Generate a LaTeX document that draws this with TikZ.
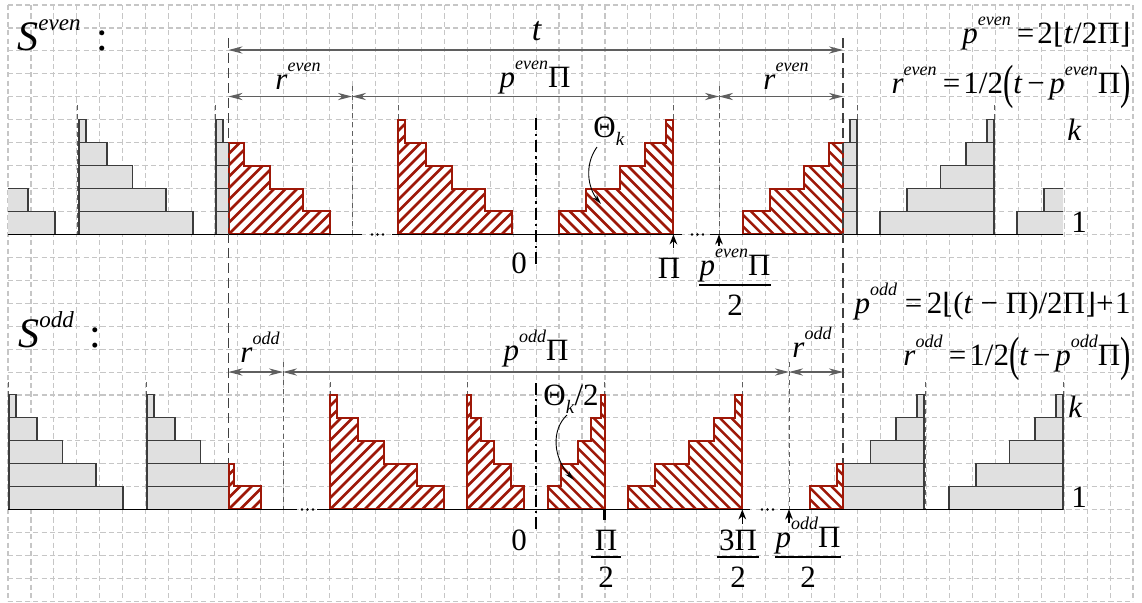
\documentclass[tikz,border=0pt]{standalone}
\usepackage{fontspec}
\setmainfont{Liberation Serif}
\newfontfamily\dvs{DejaVu Serif}
\usetikzlibrary{arrows.meta}
\definecolor{redc}{RGB}{158,24,8}
\definecolor{gridc}{RGB}{198,198,198}
\definecolor{boxfill}{RGB}{224,224,224}
\definecolor{boxdraw}{RGB}{60,60,60}
\definecolor{dimc}{RGB}{95,95,95}
\newcommand{\rowh}{22.94}
\newcommand{\yE}{234.4}
\newcommand{\yO}{509.4}
\newcommand{\V}[2]{\textit{#1}\raisebox{0.55em}{\fontsize{9}{9}\selectfont\textit{#2}}}
\newcommand{\fl}{\fontsize{15.5}{18}\selectfont}
\newcommand{\subk}{\raisebox{-4pt}{\fontsize{9.5}{9.5}\selectfont\textit{k}}}
\newcommand{\lfl}{{\dvs\fontsize{14}{14}\selectfont ⌊}}
\newcommand{\rfl}{{\dvs\fontsize{14}{14}\selectfont ⌋}}
\newcommand{\lpar}{\raisebox{-0.17em}{\scalebox{1}[1.55]{(}}}
\newcommand{\rpar}{\raisebox{-0.17em}{\scalebox{1}[1.55]{)}}}
\newcommand{\grayL}[2]{\foreach \w [count=\k] in {114,87,53.5,28,7}{\draw[graybox] (#1,#2-\k*\rowh) rectangle (#1+\w,#2-\k*\rowh+\rowh);}}
\newcommand{\grayR}[2]{\foreach \w [count=\k] in {114,87,53.5,28,7}{\draw[graybox] (#1-\w,#2-\k*\rowh) rectangle (#1,#2-\k*\rowh+\rowh);}}
\newcommand{\redL}[3]{\path[hatchL] (#1,#2) -- (#1+114*#3,#2) -- (#1+114*#3,#2-\rowh) -- (#1+87*#3,#2-\rowh) -- (#1+87*#3,#2-2*\rowh) -- (#1+53.5*#3,#2-2*\rowh) -- (#1+53.5*#3,#2-3*\rowh) -- (#1+28*#3,#2-3*\rowh) -- (#1+28*#3,#2-4*\rowh) -- (#1+7*#3,#2-4*\rowh) -- (#1+7*#3,#2-5*\rowh) -- (#1,#2-5*\rowh) -- cycle;}
\newcommand{\redR}[3]{\path[hatchR] (#1,#2) -- (#1-114*#3,#2) -- (#1-114*#3,#2-\rowh) -- (#1-87*#3,#2-\rowh) -- (#1-87*#3,#2-2*\rowh) -- (#1-53.5*#3,#2-2*\rowh) -- (#1-53.5*#3,#2-3*\rowh) -- (#1-28*#3,#2-3*\rowh) -- (#1-28*#3,#2-4*\rowh) -- (#1-7*#3,#2-4*\rowh) -- (#1-7*#3,#2-5*\rowh) -- (#1,#2-5*\rowh) -- cycle;}
\begin{document}
\begin{tikzpicture}[x=0.5pt,y=-0.5pt,
  gridl/.style={draw=gridc,line width=0.55pt,dash pattern=on 2.6pt off 1.6pt},
  graybox/.style={fill=boxfill,draw=boxdraw,line width=0.55pt},
  hatchL/.style={draw=redc,line width=1pt,line join=miter,fill=white,
    path picture={\foreach \i in {-12,...,12}{\draw[redc,line width=1.3pt] ([xshift=\i*5.75pt]path picture bounding box.south west) -- ++(72pt,72pt);}}},
  hatchR/.style={draw=redc,line width=1pt,line join=miter,fill=white,
    path picture={\foreach \i in {-12,...,12}{\draw[redc,line width=1.3pt] ([xshift=\i*5.75pt]path picture bounding box.south east) -- ++(-72pt,72pt);}}},
  thind/.style={draw=dimc,line width=0.45pt,dash pattern=on 2.5pt off 2pt},
  longd/.style={draw=black!75,line width=0.65pt,dash pattern=on 5pt off 2.5pt},
  dashdot/.style={draw=black,line width=0.8pt,dash pattern=on 6pt off 2pt on 1.2pt off 2pt},
  axisl/.style={draw=black,line width=0.9pt},
  dim/.style={draw=dimc,line width=0.6pt,arrows={Stealth[length=7pt,width=3.6pt,inset=2.2pt]-Stealth[length=7pt,width=3.6pt,inset=2.2pt]}},
  uparr/.style={draw=black,line width=0.8pt,-{Stealth[length=5pt,width=3.8pt]}},
  curv/.style={draw=black,line width=0.45pt,-{Stealth[length=5pt,width=2.6pt]}},
  lbl/.style={inner sep=0pt,font=\fl},
  fracbar/.style={draw=black,line width=0.65pt},
  dotm/.style={fill=black}]
\useasboundingbox (0,0) rectangle (1142,602);
\fill[white] (0,0) rectangle (1142,602);
% grid
\foreach \i in {0,...,49}{\draw[gridl] (8+\i*22.96,5) -- (8+\i*22.96,601.4);}
\foreach \j in {0,...,26}{\draw[gridl] (8,5+\j*22.94) -- (1133,5+\j*22.94);}
% thin dashed verticals (even)
\foreach \x in {77,215,398,673.4,857,994}{\draw[thind] (\x,105) -- (\x,\yE);}
\foreach \x in {352,719}{\draw[thind] (\x,86) -- (\x,\yE);}
% thin dashed verticals (odd)
\foreach \x in {8,146,330,467,604.5,742.3,925,1063}{\draw[thind] (\x,382) -- (\x,\yO);}
\foreach \x in {283,789}{\draw[thind] (\x,362) -- (\x,\yO);}
% gray stairs
\begin{scope}\clip (8,0) rectangle (228.5,602);
\grayL{-59}{\yE}\grayL{79}{\yE}\grayL{216}{\yE}
\grayL{9}{\yO}\grayL{147}{\yO}
\end{scope}
\begin{scope}\clip (843,0) rectangle (1063,300);
\grayR{857}{\yE}\grayR{994}{\yE}\grayR{1131}{\yE}
\end{scope}
\begin{scope}\clip (843,300) rectangle (1064.5,602);
\grayR{924}{\yO}\grayR{1063}{\yO}
\end{scope}
% red hatched stairs (even)
\path[hatchL] (228.5,\yE) -- (330,\yE) -- (330,\yE-\rowh) -- (303,\yE-\rowh) -- (303,\yE-2*\rowh) -- (269.5,\yE-2*\rowh) -- (269.5,\yE-3*\rowh) -- (244,\yE-3*\rowh) -- (244,\yE-4*\rowh) -- (228.5,\yE-4*\rowh) -- cycle;
\redL{398}{\yE}{1}
\redR{673.4}{\yE}{1}
\path[hatchR] (843,\yE) -- (743,\yE) -- (743,\yE-\rowh) -- (770,\yE-\rowh) -- (770,\yE-2*\rowh) -- (803.5,\yE-2*\rowh) -- (803.5,\yE-3*\rowh) -- (829,\yE-3*\rowh) -- (829,\yE-4*\rowh) -- (843,\yE-4*\rowh) -- cycle;
% red hatched stairs (odd)
\path[hatchL] (228.5,\yO) -- (261,\yO) -- (261,\yO-\rowh) -- (234,\yO-\rowh) -- (234,\yO-2*\rowh) -- (228.5,\yO-2*\rowh) -- cycle;
\redL{330}{\yO}{1}
\redL{467}{\yO}{0.5}
\redR{604.5}{\yO}{0.5}
\redR{742.3}{\yO}{1}
\path[hatchR] (843,\yO) -- (810,\yO) -- (810,\yO-\rowh) -- (837,\yO-\rowh) -- (837,\yO-2*\rowh) -- (843,\yO-2*\rowh) -- cycle;
% axes
\draw[axisl] (8,\yE) -- (362,\yE);
\draw[axisl] (392,\yE) -- (682,\yE);
\draw[axisl] (710,\yE) -- (1063,\yE);
\foreach \x in {372,377.5,383,692,697.5,703}{\fill[dotm] (\x,\yE) circle (0.7pt);}
\draw[axisl] (8,\yO) -- (297,\yO);
\draw[axisl] (317,\yO) -- (750,\yO);
\draw[axisl] (780,\yO) -- (1063,\yO);
\foreach \x in {302,307.5,313,762,767.5,773}{\fill[dotm] (\x,\yO) circle (0.7pt);}
% long dashed and center lines
\draw[longd] (228.5,38) -- (228.5,463);
\draw[longd] (843,38) -- (843,463);
\draw[dashdot] (535.7,118) -- (535.7,268);
\draw[dashdot] (535.7,383) -- (535.7,533);
% dimension lines
\coordinate (tL) at (228.5,50); \coordinate (tR) at (843,50);
\coordinate (e1) at (228.5,96.5); \coordinate (e2) at (352,96.5);
\coordinate (e3) at (719,96.5); \coordinate (e4) at (843,96.5);
\coordinate (o1) at (228.5,372); \coordinate (o2) at (283,372);
\coordinate (o3) at (789,372); \coordinate (o4) at (843,372);
\draw[dim] (tL) -- (tR);
\draw[dim] (e1) -- (e2); \draw[dim] (e2) -- (e3); \draw[dim] (e3) -- (e4);
\draw[dim] (o1) -- (o2); \draw[dim] (o2) -- (o3); \draw[dim] (o3) -- (o4);
% small up arrows
\coordinate (a1s) at (673.4,248); \coordinate (a1e) at (673.4,\yE);
\coordinate (a2s) at (719,246); \coordinate (a2e) at (719,\yE);
\coordinate (a3s) at (742.3,524); \coordinate (a3e) at (742.3,\yO);
\coordinate (a4s) at (789,523); \coordinate (a4e) at (789,\yO);
\draw[uparr] (a1s) -- (a1e); \draw[uparr] (a2s) -- (a2e);
\draw[uparr] (a3s) -- (a3e); \draw[uparr] (a4s) -- (a4e);
\coordinate (tk1) at (604.5,\yO); \coordinate (tk2) at (604.5,520);
\draw[draw=black,line width=1.1pt] (tk1) -- (tk2);
% labels
\node[lbl,anchor=base west] (Se) at (17,50) {\fontsize{21}{24}\selectfont\textit{S}\raisebox{10pt}{\fontsize{11.5}{12}\selectfont\textit{even}}\hspace{8pt}:};
\node[lbl,anchor=base west] (So) at (18,347) {\fontsize{21}{24}\selectfont\textit{S}\raisebox{10pt}{\fontsize{11.5}{12}\selectfont\textit{odd}}\hspace{8pt}:};
\node[lbl,anchor=base] (tlab) at (537,40) {\fontsize{17}{20}\selectfont\textit{t}};
\node[lbl,anchor=base west] (re1) at (275,89) {\V{r}{even}};
\node[lbl,anchor=base] (pe) at (535,87) {\V{p}{even}Π};
\node[lbl,anchor=base west] (re2) at (763,89) {\V{r}{even}};
\node[lbl,anchor=base east] (fpe) at (1131,43) {\V{p}{even}\hspace{0.2em}=\hspace{0.1em}2\lfl\textit{t}/2Π\rfl};
\node[lbl,anchor=base east] (fre) at (1131,93) {\V{r}{even}\hspace{0.2em}=\hspace{0.1em}1/2\lpar\textit{t}\hspace{0.15em}−\hspace{0.15em}\V{p}{even}Π\rpar};
\node[lbl,anchor=base west] (the) at (593,137) {Θ\subk};
\node[lbl,anchor=base west] (ke) at (1067,140) {\textit{k}};
\node[lbl,anchor=base west] (onee) at (1071,232) {1};
\node[lbl,anchor=base] (zeroe) at (519,273) {0};
\node[lbl,anchor=base] (pie) at (669,278) {Π};
\node[lbl,anchor=base] (fen) at (735,275) {\V{p}{even}Π};
\node[lbl,anchor=base] (fed) at (735,315) {2};
\coordinate (fbE) at (0,285);
\draw[fracbar] (fen.west |- fbE) -- (fen.east |- fbE);
\node[lbl,anchor=base west] (ro1) at (240,362) {\V{r}{odd}};
\node[lbl,anchor=base] (po) at (536,360) {\V{p}{odd}Π};
\node[lbl,anchor=base west] (ro2) at (792,357) {\V{r}{odd}};
\node[lbl,anchor=base east] (fpo) at (1131,313) {\V{p}{odd}\hspace{0.25em}=\hspace{0.15em}2\lfl(\textit{t}\hspace{0.25em}−\hspace{0.25em}Π)/2Π\rfl+\hspace{0.05em}1};
\node[lbl,anchor=base east] (fro) at (1131,365) {\V{r}{odd}\hspace{0.2em}=\hspace{0.1em}1/2\lpar\textit{t}\hspace{0.15em}−\hspace{0.15em}\V{p}{odd}Π\rpar};
\node[lbl,anchor=base west] (tho) at (543,405) {Θ\subk/2};
\node[lbl,anchor=base west] (ko) at (1068,417) {\textit{k}};
\node[lbl,anchor=base west] (oneo) at (1071,507) {1};
\node[lbl,anchor=base] (zeroo) at (519,550) {0};
\coordinate (fbO) at (0,557);
\node[lbl,anchor=base] (f1n) at (606,550) {Π};
\node[lbl,anchor=base] (f1d) at (606,587) {2};
\draw[fracbar] ([xshift=-1.5pt]f1n.west |- fbO) -- ([xshift=1.5pt]f1n.east |- fbO);
\node[lbl,anchor=base] (f2n) at (738,550) {3Π};
\node[lbl,anchor=base] (f2d) at (738,587) {2};
\draw[fracbar] ([xshift=-1pt]f2n.west |- fbO) -- ([xshift=1pt]f2n.east |- fbO);
\node[lbl,anchor=base] (f3n) at (808,547) {\V{p}{odd}Π};
\node[lbl,anchor=base] (f3d) at (808,587) {2};
\draw[fracbar] (f3n.west |- fbO) -- (f3n.east |- fbO);
% curved pointer arrows
\coordinate (c1s) at (597,147); \coordinate (c1e) at (601,204);
\draw[curv] (c1s) .. controls (584,165) and (588,188) .. (c1e);
\coordinate (c2s) at (567,415); \coordinate (c2e) at (574,480);
\draw[curv] (c2s) .. controls (551,430) and (553,458) .. (c2e);
\end{tikzpicture}
\end{document}
